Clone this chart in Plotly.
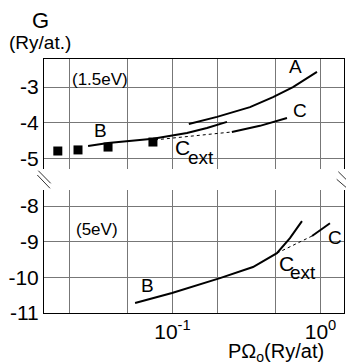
import numpy as np
import plotly.graph_objects as go

# ---- data ----
# top panel (1.5 eV)
sq_x = [0.0168, 0.0230, 0.0367, 0.0738]
sq_y = [-4.78, -4.75, -4.67, -4.53]
b1_x = [0.0269, 0.0367, 0.0738, 0.1253, 0.171, 0.2335]
b1_y = [-4.64, -4.56, -4.44, -4.28, -4.14, -3.97]
a1_x = [0.129, 0.200, 0.334, 0.478, 0.652, 0.947]
a1_y = [-4.03, -3.83, -3.56, -3.28, -3.00, -2.58]
c1_x = [0.252, 0.390, 0.594]
c1_y = [-4.25, -4.08, -3.86]
ce1_x = [0.0762, 0.153, 0.252]
ce1_y = [-4.47, -4.33, -4.25]
# bottom panel (5 eV)
b2_x = [0.0559, 0.0993, 0.2094, 0.350, 0.508, 0.622, 0.694, 0.750]
b2_y = [-10.72, -10.44, -10.02, -9.71, -9.32, -8.90, -8.62, -8.42]
ce2_x = [0.508, 0.877]
ce2_y = [-9.32, -8.84]
c2_x = [0.877, 1.159]
c2_y = [-8.84, -8.48]

x_major = [0.1, 1]
x_text = ['10<sup>-1</sup>', '10<sup>0</sup>']
x_minor = [0.02, 0.05, 0.2, 0.5]
y_top_ticks = [-3, -4, -5]
y_top_text = ['-3', '-4', '-5']
y_bot_ticks = [-8, -9, -10, -11]
y_bot_text = ['-8', '-9', '-10', '-11']

FONT = "Liberation Sans, Arial, sans-serif"
solid = dict(color='black', width=2)
dotted = dict(color='black', width=1, dash='dot')

fig = go.Figure()
fig.add_trace(go.Scatter(x=b1_x, y=b1_y, mode='lines', line=solid, xaxis='x2', yaxis='y2'))
fig.add_trace(go.Scatter(x=a1_x, y=a1_y, mode='lines', line=solid, xaxis='x2', yaxis='y2'))
fig.add_trace(go.Scatter(x=c1_x, y=c1_y, mode='lines', line=solid, xaxis='x2', yaxis='y2'))
fig.add_trace(go.Scatter(x=ce1_x, y=ce1_y, mode='lines', line=dotted, xaxis='x2', yaxis='y2'))
fig.add_trace(go.Scatter(x=sq_x, y=sq_y, mode='markers',
                         marker=dict(symbol='square', size=9, color='black'),
                         xaxis='x2', yaxis='y2'))
fig.add_trace(go.Scatter(x=b2_x, y=b2_y, mode='lines', line=solid, xaxis='x', yaxis='y'))
fig.add_trace(go.Scatter(x=ce2_x, y=ce2_y, mode='lines', line=dotted, xaxis='x', yaxis='y'))
fig.add_trace(go.Scatter(x=c2_x, y=c2_y, mode='lines', line=solid, xaxis='x', yaxis='y'))

grid = '#777777'
xcommon = dict(type='log', range=[-1.868, 0.159], tickmode='array',
               tickvals=x_major, ticktext=x_text,
               showgrid=True, gridcolor=grid, gridwidth=1, showline=True,
               linecolor='black', linewidth=1, ticks='', zeroline=False,
               minor=dict(tickmode='array', tickvals=x_minor, showgrid=True,
                          gridcolor=grid, gridwidth=1, ticks=''))
fig.update_layout(
    width=346, height=364,
    margin=dict(l=44, r=2, t=59, b=51),
    paper_bgcolor='white', plot_bgcolor='white',
    showlegend=False,
    font=dict(family=FONT, color='black', size=20),
    xaxis=dict(**xcommon, domain=[0, 1], anchor='y', tickfont=dict(size=21)),
    xaxis2=dict(**xcommon, domain=[0, 1], anchor='y2', side='top', showticklabels=False,
                matches='x'),
    yaxis=dict(domain=[0, 0.484], range=[-11, -7.55], tickmode='array',
               tickvals=y_bot_ticks, ticktext=y_bot_text,
               showgrid=True, gridcolor=grid, showline=True, mirror=True,
               linecolor='black', ticks='', zeroline=False, tickfont=dict(size=21)),
    yaxis2=dict(domain=[0.567, 1], range=[-5.28, -2.22], tickmode='array',
                tickvals=y_top_ticks, ticktext=y_top_text,
                showgrid=True, gridcolor=grid, showline=True, mirror=True,
                linecolor='black', ticks='', zeroline=False, tickfont=dict(size=21)),
)

def lbl(text, x, y, xref, yref, size=19):
    fig.add_annotation(text=text, x=np.log10(x), y=y, xref=xref, yref=yref,
                       showarrow=False, font=dict(size=size, family=FONT, color='black'),
                       xanchor='center', yanchor='middle')

# top panel labels
lbl('A', 0.673, -2.44, 'x2', 'y2')
lbl('C', 0.727, -3.64, 'x2', 'y2')
lbl('B', 0.0324, -4.22, 'x2', 'y2')
lbl('(1.5eV)', 0.0324, -2.78, 'x2', 'y2', size=17)
lbl('C', 0.117, -4.69, 'x2', 'y2', size=21)
lbl('ext', 0.156, -4.97, 'x2', 'y2', size=19)
# bottom panel labels
lbl('(5eV)', 0.0309, -8.67, 'x', 'y', size=17)
lbl('B', 0.0673, -10.24, 'x', 'y')
lbl('C', 1.253, -8.87, 'x', 'y')
lbl('C', 0.594, -9.60, 'x', 'y', size=21)
lbl('ext', 0.762, -9.85, 'x', 'y', size=19)

def paper(px, py):
    return (px - 44) / 300.0, (313 - py) / 254.0

# axis titles
gx, gy = paper(40, 20)
fig.add_annotation(text='G', x=gx, y=gy, xref='paper', yref='paper', showarrow=False,
                   font=dict(size=22, family=FONT), xanchor='center', yanchor='middle')
rx, ry = paper(40, 43)
fig.add_annotation(text='(Ry/at.)', x=rx, y=ry, xref='paper', yref='paper', showarrow=False,
                   font=dict(size=19, family=FONT), xanchor='center', yanchor='middle')
tx, ty = paper(276, 352)
fig.add_annotation(text='PΩ<sub>o</sub>(Ry/at)', x=tx, y=ty, xref='paper', yref='paper',
                   showarrow=False, font=dict(size=20, family=FONT),
                   xanchor='center', yanchor='middle')

# axis-break marks
for (x0, y0, x1, y1) in [(38.3, 170.7, 50.7, 183.3), (37.3, 175.0, 50.0, 188.3),
                         (338.3, 171.7, 346.7, 180.0), (336.7, 179.3, 346.0, 187.3)]:
    a0, b0 = paper(x0, y0)
    a1, b1 = paper(x1, y1)
    fig.add_shape(type='line', x0=a0, y0=b0, x1=a1, y1=b1, xref='paper', yref='paper',
                  line=dict(color='#333333', width=1))

fig.write_html("out.html")
